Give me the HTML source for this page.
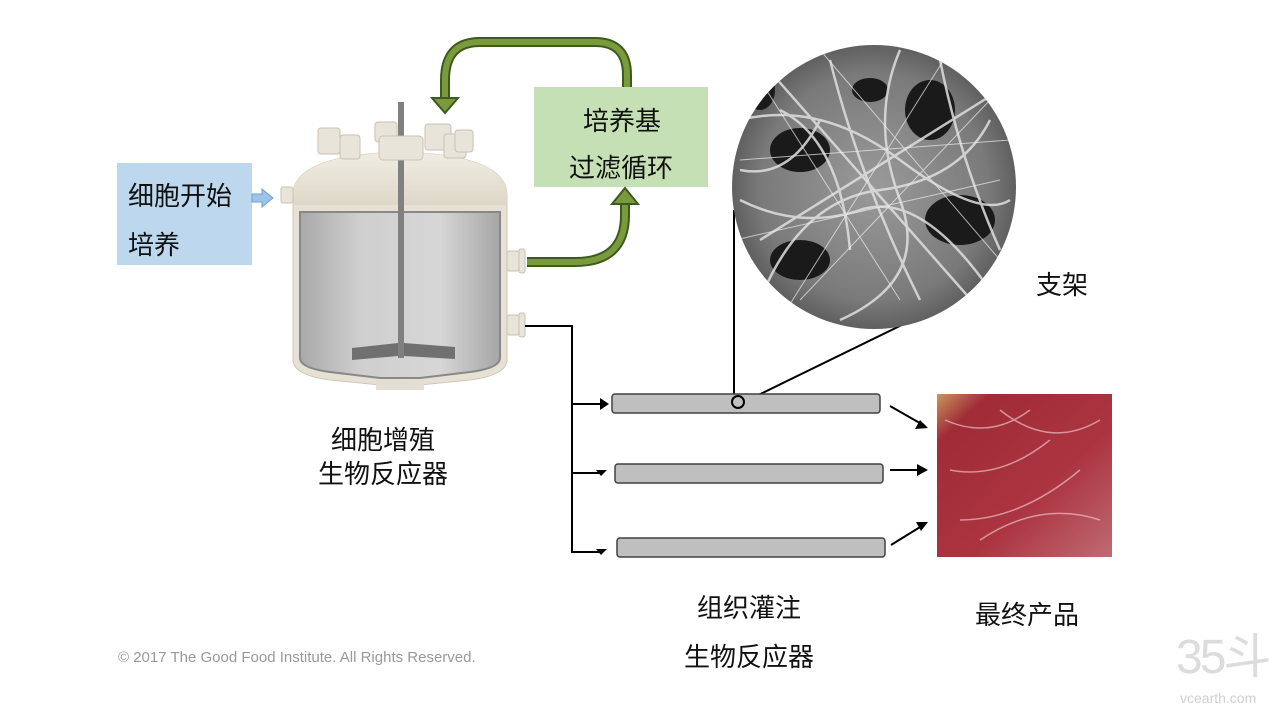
<!DOCTYPE html>
<html><head><meta charset="utf-8"><style>
body{margin:0;width:1280px;height:720px;background:#fff;overflow:hidden;font-family:"Liberation Sans","Noto Sans CJK SC",sans-serif}
.t{position:absolute;font-size:26px;color:#111;white-space:nowrap;line-height:1}
</style></head><body>
<svg width="1280" height="720" style="position:absolute;left:0;top:0">
<defs>
<linearGradient id="glass" x1="0" x2="1"><stop offset="0" stop-color="#a9a9a9"/><stop offset=".3" stop-color="#cfcfcf"/><stop offset=".7" stop-color="#d6d6d6"/><stop offset="1" stop-color="#a6a6a6"/></linearGradient>
<linearGradient id="lid" x1="0" y1="0" x2="0" y2="1"><stop offset="0" stop-color="#f1ede3"/><stop offset="1" stop-color="#ddd7c8"/></linearGradient>
<radialGradient id="sem" cx=".5" cy=".5" r=".5"><stop offset="0" stop-color="#9a9a9a"/><stop offset=".8" stop-color="#7a7a7a"/><stop offset="1" stop-color="#606060"/></radialGradient>
<linearGradient id="meat" x1="0" y1="0" x2="1" y2="1"><stop offset="0" stop-color="#c9975c"/><stop offset=".15" stop-color="#a02c38"/><stop offset=".6" stop-color="#ab3440"/><stop offset="1" stop-color="#c06a72"/></linearGradient>
<clipPath id="cc"><circle cx="874" cy="187" r="142"/></clipPath>
</defs>
<rect x="117" y="163" width="135" height="102" fill="#bdd7ee"/>
<rect x="534" y="87" width="174" height="100" fill="#c5e0b4"/>
<path d="M252 194h10v-5l11 9-11 9v-5h-10z" fill="#9dc3e6" stroke="#6fa0d0" stroke-width="1"/>
<path d="M293 195 Q293 155 400 152 Q507 155 507 195 V360 Q507 375 470 380 L420 385 H380 L330 380 Q293 375 293 360Z" fill="#e6e1d4" stroke="#cfc9ba"/>
<path d="M300 212 H500 V358 Q500 368 470 372 L420 378 H380 L330 372 Q300 368 300 358Z" fill="url(#glass)" stroke="#888" stroke-width="2"/>
<path d="M293 195 Q293 155 400 152 Q507 155 507 195 V205 H293Z" fill="url(#lid)"/>
<rect x="376" y="380" width="48" height="10" fill="#e3ded1"/>
<rect x="398" y="102" width="6" height="256" fill="#808080"/>
<path d="M352 348 L398 343 V356 L352 360Z M404 343 L455 347 V359 L404 356Z" fill="#707070"/>
<g fill="#e8e4da" stroke="#c8c2b3">
<rect x="318" y="128" width="22" height="26" rx="3"/><rect x="340" y="135" width="20" height="24" rx="3"/>
<rect x="375" y="122" width="22" height="20" rx="3"/><rect x="379" y="136" width="44" height="24" rx="4"/>
<rect x="425" y="124" width="26" height="26" rx="3"/><rect x="444" y="134" width="22" height="24" rx="3"/><rect x="455" y="130" width="18" height="22" rx="3"/>
<rect x="281" y="187" width="12" height="16" rx="2"/>
<rect x="507" y="251" width="12" height="20" rx="2"/><rect x="519" y="249" width="6" height="24" rx="2"/>
<rect x="507" y="315" width="12" height="20" rx="2"/><rect x="519" y="313" width="6" height="24" rx="2"/>
</g>
<g fill="none" stroke-linejoin="round">
<path d="M627 87 V75 Q627 42 595 42 H480 Q445 42 445 80 V100" stroke="#3e5a1c" stroke-width="10"/>
<path d="M627 87 V75 Q627 42 595 42 H480 Q445 42 445 80 V100" stroke="#7a9a3e" stroke-width="6"/>
<path d="M527 262 H575 Q625 262 625 215 V203" stroke="#3e5a1c" stroke-width="10"/>
<path d="M527 262 H575 Q625 262 625 215 V203" stroke="#7a9a3e" stroke-width="6"/>
</g>
<path d="M432 98 H458 L445 113Z" fill="#7a9a3e" stroke="#3e5a1c" stroke-width="2"/>
<path d="M612 204 H638 L625 188Z" fill="#7a9a3e" stroke="#3e5a1c" stroke-width="2"/>
<g stroke="#000" stroke-width="2" fill="none">
<path d="M525 326 H572 V552 H600"/><path d="M572 404 H600"/><path d="M572 473 H600"/>
<path d="M734 210 V398"/><path d="M744 402 L912 320"/>
<path d="M890 406 L925 426"/><path d="M890 470 H925"/><path d="M891 545 L925 524"/>
</g>
<g fill="#000">
<path d="M600 398 L609 404 L600 410Z"/><path d="M596 470 H607 L601 476Z"/><path d="M596 549 H607 L601 555Z"/>
<path d="M928 428 L915 429 L920 420Z"/><path d="M928 470 L917 464 L917 476Z"/><path d="M928 522 L916 522 L921 531Z"/>
</g>
<g fill="#bfbfbf" stroke="#404040" stroke-width="1.5">
<rect x="612" y="394" width="268" height="19" rx="3"/>
<rect x="615" y="464" width="268" height="19" rx="3"/>
<rect x="617" y="538" width="268" height="19" rx="3"/>
</g>
<circle cx="738" cy="402" r="6" fill="#bfbfbf" stroke="#000" stroke-width="2"/>
<circle cx="874" cy="187" r="142" fill="url(#sem)"/>
<g clip-path="url(#cc)" fill="none">
<g fill="#1a1a1a"><ellipse cx="800" cy="150" rx="30" ry="22"/><ellipse cx="930" cy="110" rx="25" ry="30"/><ellipse cx="960" cy="220" rx="35" ry="25"/><ellipse cx="800" cy="260" rx="30" ry="20"/><ellipse cx="870" cy="90" rx="18" ry="12"/><ellipse cx="760" cy="90" rx="15" ry="20"/></g>
<g stroke="#e0e0e0" stroke-width="2.5" opacity=".85">
<path d="M740 120 Q820 100 900 160 T1010 200"/><path d="M760 300 Q800 200 880 190 T990 120"/><path d="M830 60 Q860 180 920 300"/><path d="M740 200 Q800 230 860 210 T990 290"/><path d="M900 50 Q870 120 900 200 T840 320"/><path d="M760 60 L980 310"/><path d="M1000 90 L760 240"/>
<path d="M780 110 Q840 140 850 250"/><path d="M940 60 Q960 160 1000 250"/><path d="M740 170 Q790 180 820 120"/>
</g>
<g stroke="#eee" stroke-width="1" opacity=".7"><path d="M740 160 L1010 140"/><path d="M780 320 L950 50"/><path d="M820 50 L1000 260"/><path d="M735 240 L1000 180"/><path d="M760 80 L900 300"/><path d="M990 100 L800 300"/></g>
</g>
<rect x="937" y="394" width="175" height="163" fill="url(#meat)"/>
<g stroke="#e8c0c4" stroke-width="1.5" fill="none" opacity=".7">
<path d="M945 420 Q990 440 1030 410"/><path d="M950 470 Q1000 480 1050 440"/><path d="M960 520 Q1020 520 1080 470"/><path d="M1000 410 Q1050 450 1100 420"/><path d="M980 540 Q1040 500 1100 520"/>
</g>
</svg>
<div class="t" style="left:128px;top:183px">细胞开始</div>
<div class="t" style="left:128px;top:232px">培养</div>
<div class="t" style="left:583px;top:108px">培养基</div>
<div class="t" style="left:569px;top:155px">过滤循环</div>
<div class="t" style="left:331px;top:427px">细胞增殖</div>
<div class="t" style="left:318px;top:461px">生物反应器</div>
<div class="t" style="left:1036px;top:272px">支架</div>
<div class="t" style="left:697px;top:595px">组织灌注</div>
<div class="t" style="left:684px;top:644px">生物反应器</div>
<div class="t" style="left:975px;top:602px">最终产品</div>
<div class="t" style="left:118px;top:650px;font-size:15px;color:#999">© 2017 The Good Food Institute. All Rights Reserved.</div>
<div class="t" style="left:1176px;top:634px;font-size:48px;color:#dcdcdc;letter-spacing:-3px">35斗</div>
<div class="t" style="left:1180px;top:691px;font-size:14px;color:#cfcfcf">vcearth.com</div>
</body></html>
